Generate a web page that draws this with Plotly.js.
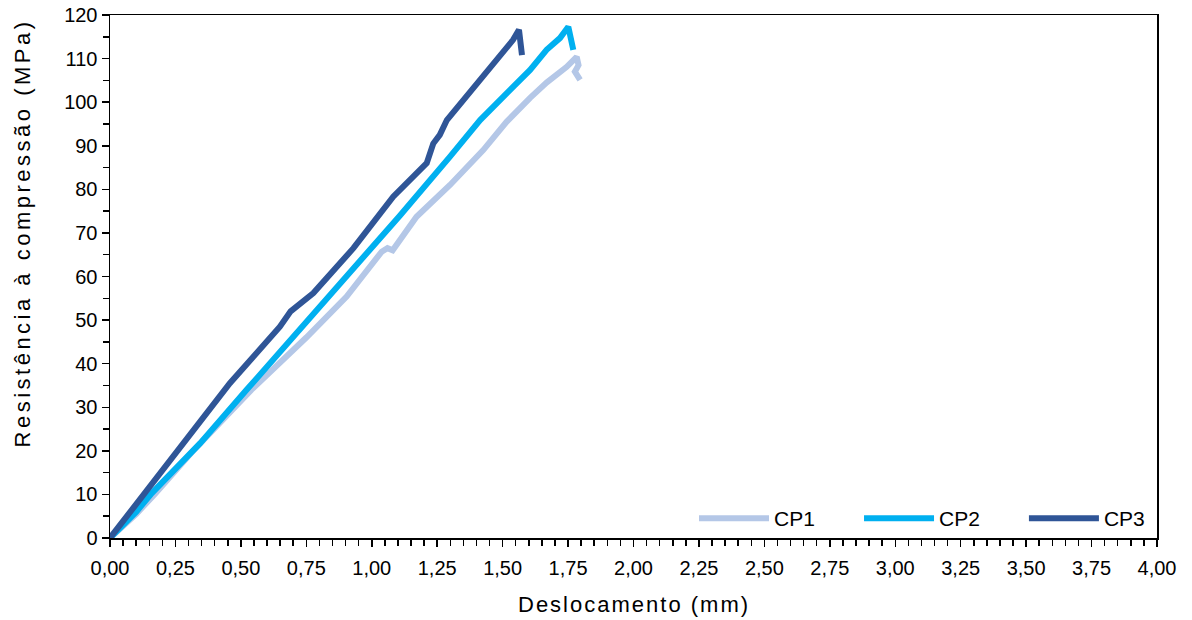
<!DOCTYPE html>
<html>
<head>
<meta charset="utf-8">
<script src="https://cdn.plot.ly/plotly-3.0.1.min.js"></script>
<style>
html,body{margin:0;padding:0;background:#fff}
#chart{width:1192px;height:620px}
g.annotation[data-index="0"] text{letter-spacing:2px}
g.annotation[data-index="1"] text{letter-spacing:3.5px}
</style>
</head>
<body>
<div id="chart"></div>
<script>
var seriesNames = ["CP1", "CP2", "CP3"];
var cp1X = [0, 0.10, 0.17, 0.31, 0.54, 0.75, 0.904, 1.019, 1.038, 1.06, 1.08, 1.171, 1.299, 1.426, 1.515, 1.605, 1.668, 1.745, 1.783, 1.79, 1.776, 1.796];
var cp1Y = [0, 5.5, 10, 19.5, 34, 46, 55.4, 63.8, 65.7, 66.5, 66, 73.7, 81, 89, 95.5, 101, 104.5, 108.1, 110.4, 108.5, 107, 105.1];
var cp2X = [0, 0.10, 0.16, 0.344, 0.522, 0.713, 0.866, 0.981, 1.06, 1.108, 1.299, 1.414, 1.54, 1.605, 1.668, 1.708, 1.719, 1.751, 1.762, 1.77];
var cp2Y = [0, 6, 10.3, 21.7, 34, 47, 57.7, 65.3, 70.5, 74, 87.5, 95.9, 103.5, 107.4, 112, 114.3, 114.7, 117.3, 114, 112];
var cp3X = [0, 0.13, 0.293, 0.458, 0.649, 0.69, 0.777, 0.891, 0.93, 1.082, 1.19, 1.21, 1.235, 1.26, 1.287, 1.387, 1.452, 1.50, 1.54, 1.5625, 1.574];
var cp3Y = [0, 10, 22.5, 35.5, 48.5, 52, 56.2, 63.8, 66.5, 78.3, 84.5, 86, 90.5, 92.5, 95.9, 103.2, 107.6, 111, 114.3, 116.6, 110.8];
var colors = ["#B4C7E7", "#00B0F0", "#2F5597"];
var xTitle = "Deslocamento (mm)";
var yTitle = "Resistência à compressão (MPa)";

var fam = "Liberation Sans, Arial, sans-serif";
var xs = [cp1X, cp2X, cp3X], ys = [cp1Y, cp2Y, cp3Y];
var legendIds = ["legend", "legend2", "legend3"];
var legendX = [0.5578, 0.7154, 0.8729];
var traces = seriesNames.map(function (n, i) {
  return {x: xs[i], y: ys[i], name: n, type: "scatter", mode: "lines",
    line: {color: colors[i], width: 6}, legend: legendIds[i]};
});

var layout = {
  width: 1192, height: 620,
  margin: {l: 110, r: 35, t: 15, b: 82},
  separators: ", ",
  paper_bgcolor: "#fff", plot_bgcolor: "#fff",
  font: {family: fam, size: 20, color: "#000"},
  showlegend: true,
  xaxis: {range: [0, 4], dtick: 0.25, tick0: 0, tickformat: ".2f", ticks: "outside", ticklen: 7,
    tickcolor: "#000", tickwidth: 1.5, showline: true, linecolor: "#000", linewidth: 1.5, mirror: true,
    showgrid: false, zeroline: false, fixedrange: true, ticklabelstandoff: 4,
    tickfont: {family: fam, size: 20, color: "#000"},
    minor: {dtick: 0.05, ticks: "outside", ticklen: 6, tickcolor: "#000", tickwidth: 1.5, showgrid: false}},
  yaxis: {range: [0, 120], dtick: 10, tick0: 0, ticks: "outside", ticklen: 7,
    tickcolor: "#000", tickwidth: 1.5, showline: true, linecolor: "#000", linewidth: 1.5, mirror: true,
    showgrid: false, zeroline: false, fixedrange: true,
    tickfont: {family: fam, size: 20, color: "#000"},
    minor: {dtick: 5, ticks: "outside", ticklen: 6, tickcolor: "#000", tickwidth: 1.5, showgrid: false}},
  annotations: [
    {text: xTitle, xref: "paper", yref: "paper", x: 0.5, y: -0.1262, xanchor: "center", yanchor: "middle",
      showarrow: false, font: {family: fam, size: 22, color: "#000"}},
    {text: yTitle, xref: "paper", yref: "paper", x: -0.0831, y: 0.5832, xanchor: "center", yanchor: "middle",
      textangle: -90, showarrow: false, font: {family: fam, size: 22, color: "#000"}}
  ]
};
legendIds.forEach(function (id, i) {
  layout[id] = {orientation: "h", x: legendX[i], xanchor: "left", y: -0.002, yanchor: "bottom",
    bgcolor: "rgba(0,0,0,0)", font: {family: fam, size: 21, color: "#000"}, itemwidth: 70};
});
Plotly.newPlot("chart", traces, layout, {staticPlot: true, displayModeBar: false});
</script>
</body>
</html>
